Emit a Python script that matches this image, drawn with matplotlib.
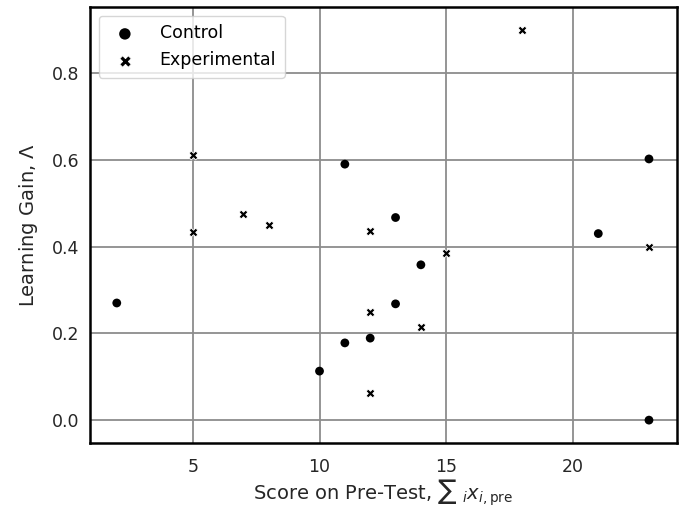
import matplotlib
matplotlib.use("Agg")
import matplotlib.pyplot as plt

# pre-test score and learning gain per student
control_score = [2, 10, 11, 11, 12, 13, 13, 14, 21, 23, 23]
control_gain = [0.27, 0.113, 0.59, 0.178, 0.189, 0.467, 0.268, 0.358, 0.43, 0.602, 0.0]

exp_score = [5, 5, 7, 8, 12, 12, 12, 14, 15, 18, 23]
exp_gain = [0.611, 0.434, 0.476, 0.45, 0.437, 0.25, 0.063, 0.215, 0.385, 0.90, 0.40]


def main():
    fig = plt.figure(figsize=(6.83, 5.07), dpi=100)
    ax = fig.add_axes([0.132, 0.126, 0.859, 0.860])

    ax.scatter(control_score, control_gain, marker="o", s=40, color="black",
               edgecolors="none", label="Control", zorder=3)
    ax.scatter(exp_score, exp_gain, marker="X", s=40, color="black",
               edgecolors="white", linewidths=0.6, label="Experimental", zorder=3)

    ax.set_xticks([5, 10, 15, 20])
    ax.set_yticks([0.0, 0.2, 0.4, 0.6, 0.8])
    ax.set_xlim(0.95, 24.1)
    ax.set_ylim(-0.053, 0.952)

    ax.grid(True, color="#8c8c8c", linewidth=1.3)
    ax.set_axisbelow(True)
    ax.tick_params(length=0, labelsize=12.5, colors="#262626")
    ax.tick_params(axis="x", pad=11)
    ax.tick_params(axis="y", pad=8)
    for sp in ax.spines.values():
        sp.set_color("black")
        sp.set_linewidth(1.8)

    ax.set_xlabel(r"Score on Pre-Test, $\sum$ $_i x_{i,\mathrm{pre}}$", fontsize=14,
                  color="#262626", labelpad=1)
    ax.set_ylabel(r"Learning Gain, $\Lambda$", fontsize=14, color="#262626", labelpad=8)

    ax.legend(loc="upper left", fontsize=12.5, frameon=True, framealpha=0.8,
              edgecolor="#cccccc", borderpad=0.5, handletextpad=1.0, markerscale=1.3,
              bbox_to_anchor=(0.0, 1.0))

    fig.savefig("out.png", dpi=100)


if __name__ == "__main__":
    main()
